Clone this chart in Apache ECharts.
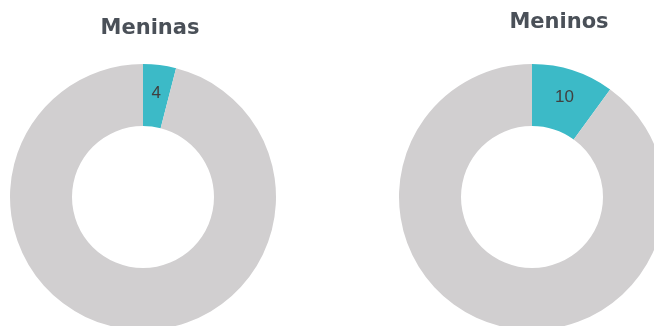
<!DOCTYPE html>
<html>
<head>
<meta charset="utf-8">
<script src="https://cdn.jsdelivr.net/npm/echarts@6/dist/echarts.min.js"></script>
<style>
  html, body { margin: 0; padding: 0; background: #fff; }
  #chart { width: 654px; height: 326px; }
</style>
</head>
<body>
<div id="chart"></div>
<script>
// dados
const groups = ['Meninas', 'Meninos'];
const highlighted = [4, 10];
const rest = [96, 90];

const colors = ['#3cbac7', '#d1cfd0'];

const chart = echarts.init(document.getElementById('chart'));

// posições de cada rosca
const centers = [[143, 197], [532, 197]];
const titlePos = [[145, 13], [554, 7]];

const option = {
    animation: false,
    title: groups.map((g, i) => ({
        text: g,
        left: titlePos[i][0],
        top: titlePos[i][1],
        textAlign: 'center',
        textStyle: {
            fontFamily: 'DejaVu Sans',
            fontWeight: 'bold',
            fontSize: 21,
            color: '#4a5058'
        }
    })),
    series: groups.map((g, i) => ({
        type: 'pie',
        center: centers[i],
        radius: [71, 133],
        startAngle: 90,
        clockwise: true,
        silent: true,
        itemStyle: { borderWidth: 0 },
        label: {
            position: 'inside',
            fontFamily: 'Liberation Sans',
            fontSize: 17,
            color: '#404040',
            formatter: p => p.dataIndex === 0 ? p.value : ''
        },
        labelLine: { show: false },
        data: [
            { value: highlighted[i], itemStyle: { color: colors[0] } },
            { value: rest[i], itemStyle: { color: colors[1] } }
        ]
    }))
};

chart.setOption(option);
</script>
</body>
</html>
